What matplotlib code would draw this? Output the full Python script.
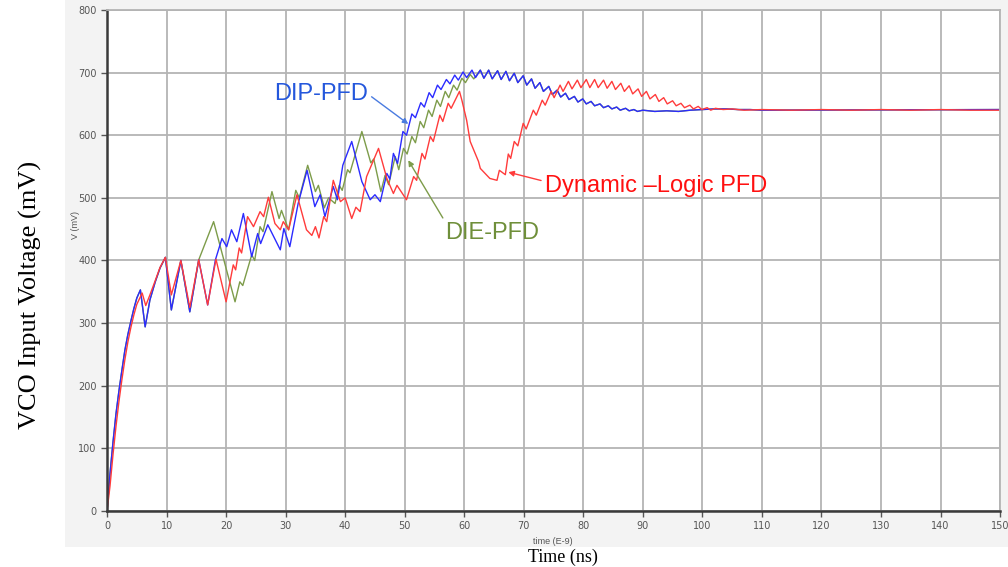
import matplotlib
matplotlib.use("Agg")
import matplotlib.pyplot as plt
from matplotlib.patches import Rectangle

# DIP-PFD (blue)
blue_t = [0, 0.5, 1, 1.5, 2, 2.5, 3, 3.5, 4, 4.5, 5, 5.6,
          6.4, 7.2, 8.1, 8.9, 9.8,
          10.8, 12.4, 13.9, 15.4, 16.9, 18.2,
          19.3, 20.1, 20.9, 21.8, 22.9, 24.3, 25.3, 25.8, 27.0,
          29.1, 29.7, 30.7, 32.1, 33.6, 34.9, 35.8, 36.6, 38.0, 38.7, 39.6, 41.1, 42.8, 44.2, 45.0, 45.9,
          47.0, 47.5, 48.1, 48.8, 49.7,
          50.3, 51.2, 51.8, 52.7, 53.3, 54.1, 54.7, 55.5, 56.1, 57.0, 57.6, 58.4, 59.0, 59.8,
          60.4, 61.3, 61.9, 62.7, 63.3, 64.1, 64.7, 65.6, 66.2, 67.0, 67.6, 68.4, 69.0, 69.9,
          70.5, 71.3, 71.9, 72.7, 73.3, 74.2, 74.8, 75.6, 76.2, 77.0, 77.6, 78.5, 79.1, 79.9,
          80.5, 81.3, 81.9, 82.8, 83.4, 84.2, 84.8, 85.6, 86.2, 87.1, 87.7, 88.5, 89.1,
          90, 92, 94, 96, 98, 100, 102, 104, 106, 108, 110, 150]
blue_v = [0, 60, 110, 155, 192, 225, 257, 282, 303, 323, 340, 353,
          294, 337, 366, 388, 405,
          321, 400, 318, 401, 329, 401,
          435, 422, 449, 430, 475, 406, 443, 427, 457,
          417, 451, 422, 491, 544, 486, 505, 470, 518, 497, 552, 590, 526, 497, 505, 494,
          539, 530, 571, 555, 606,
          600, 634, 628, 652, 645, 668, 660, 680, 673, 689, 682, 696, 688, 701,
          692, 704, 692, 704, 691, 704, 690, 703, 689, 702, 687, 699, 684, 695,
          680, 690, 675, 684, 670, 678, 665, 672, 661, 667, 657, 662, 653, 658,
          650, 654, 647, 650, 644, 647, 642, 645, 640, 643, 639, 641, 638,
          640, 638, 639, 638, 640, 641, 642, 642, 641, 641, 640, 641]

# DIE-PFD (green): follows DIP-PFD up to 15.4 ns and again after 62.7 ns
green_mid_t = [17.9, 21.5, 22.3, 22.8, 24.3, 24.8, 25.7, 26.2, 27.7, 28.9,
               29.3, 30.5, 31.7, 32.3, 33.7, 35.0, 35.5, 36.5, 37.2, 38.3,
               39.0, 39.5, 40.4, 40.8, 42.8, 44.3, 44.8, 46.0, 46.7, 47.3,
               48.4, 49.0, 49.8, 50.4, 51.2, 51.8, 52.6, 53.2, 54.0, 54.6,
               55.4, 56.0, 56.8, 57.4, 58.2, 58.8, 59.6, 60.2, 61.0, 61.6]
green_mid_v = [462, 334, 366, 360, 409, 400, 454, 446, 510, 467,
               480, 449, 512, 500, 552, 510, 520, 484, 500, 491,
               520, 512, 545, 540, 606, 556, 562, 510, 536, 521,
               566, 545, 579, 570, 598, 588, 622, 612, 640, 630,
               656, 646, 670, 660, 680, 672, 691, 684, 697, 690]

# Dynamic-Logic PFD (red)
red_t = [0, 0.5, 1, 1.5, 2, 2.5, 3, 3.5, 4, 4.5,
         5, 5.9, 6.5, 7.2, 8.1, 8.9, 9.8, 10.8, 12.4, 13.9,
         15.4, 16.9, 18.3, 20.0, 21.2, 21.6, 22.2, 22.6, 23.6, 24.6,
         25.7, 26.3, 27.1, 28.2, 29.1, 29.6, 30.5, 31.9, 33.5, 34.4,
         35.0, 35.6, 36.4, 36.9, 38.0, 39.2, 40.0, 41.1, 41.8, 42.5,
         43.6, 45.6, 47.0, 48.1, 48.7, 50.3, 51.5, 52.0, 52.9, 53.4,
         54.3, 54.8, 55.9, 56.4, 57.3, 57.8, 59.2, 59.6, 60.4, 61.0,
         62.4, 62.7, 64.3, 65.5, 65.9, 66.9, 67.4, 67.8, 68.4, 69.0,
         69.9, 70.4, 71.6, 72.1, 73.1, 73.6, 74.6, 75.1, 76.1, 76.6,
         77.5, 78.1, 79.0, 79.6, 80.5, 81.1, 81.9, 82.5, 83.4, 84.0,
         84.8, 85.4, 86.3, 86.9, 87.7, 88.3, 89.2, 89.8, 90.6, 91.2,
         92.1, 92.7, 93.5, 94.1, 95.0, 95.6, 96.4, 97.0, 97.9, 98.5,
         99.3, 99.9, 100.8, 101.4, 102.2, 103.5, 105, 107, 110, 115,
         120, 125, 130, 135, 140, 145, 150]
red_v = [0, 40, 90, 135, 175, 210, 242, 270, 293, 313,
         330, 348, 328, 345, 368, 389, 405, 345, 400, 325,
         401, 329, 402, 334, 393, 385, 420, 412, 470, 454,
         478, 470, 501, 459, 449, 462, 449, 505, 449, 440,
         454, 436, 470, 462, 528, 494, 500, 467, 485, 478,
         534, 579, 531, 507, 520, 497, 534, 528, 571, 562,
         598, 590, 632, 622, 651, 643, 670, 656, 624, 590,
         558, 547, 531, 528, 544, 537, 570, 563, 590, 583,
         619, 610, 640, 632, 656, 648, 670, 660, 680, 670,
         686, 674, 688, 676, 689, 676, 689, 676, 688, 675,
         686, 673, 683, 670, 679, 666, 674, 662, 670, 658,
         665, 654, 660, 650, 655, 647, 651, 644, 648, 642,
         646, 641, 644, 640, 643, 641, 642, 640, 641, 640,
         641, 640, 641, 640, 641, 640, 640]

x_ticks = list(range(0, 151, 10))
y_ticks = list(range(0, 801, 100))

# build green series from its own middle part + shared parts of blue
green_t = blue_t[:21] + green_mid_t + [t for t in blue_t if t >= 62.7]
green_v = blue_v[:21] + green_mid_v + [v for t, v in zip(blue_t, blue_v) if t >= 62.7]

fig = plt.figure(figsize=(10.08, 5.67), dpi=100)
fig.patch.set_facecolor('white')
# light grey panel of the simulator screenshot
panel = Rectangle((0.0645, 0.035), 0.94, 0.97, transform=fig.transFigure,
                  facecolor='#f3f3f3', edgecolor='none', zorder=-5)
fig.add_artist(panel)

ax = fig.add_axes([0.1062, 0.0988, 0.8859, 0.8836])
ax.set_facecolor('white')
ax.set_xlim(0, 150)
ax.set_ylim(0, 800)
ax.set_xticks(x_ticks)
ax.set_yticks(y_ticks)
ax.grid(True, color='#b4b4b4', linewidth=1.3)
ax.set_axisbelow(True)
ax.tick_params(labelsize=7, colors='#555555', length=4, width=1, direction='out')
for side in ['top', 'right']:
    ax.spines[side].set_color('#b4b4b4')
    ax.spines[side].set_linewidth(1.3)
for side in ['left', 'bottom']:
    ax.spines[side].set_color('#3a3a3a')
    ax.spines[side].set_linewidth(1.8)

ax.plot(green_t, green_v, color='#7d9c4a', linewidth=1.0)
ax.plot(blue_t, blue_v, color='#2b2bff', linewidth=1.0)
ax.plot(red_t, red_v, color='#ff3b3b', linewidth=1.0)

# curve labels with arrows
ax.annotate('DIP-PFD', xy=(50.6, 618), xytext=(35.9, 666), color='#2457dc',
            fontsize=17, family='Liberation Sans', ha='center', va='center',
            arrowprops=dict(arrowstyle='-|>', color='#4a7be0', lw=1.0, relpos=(1.0, 0.5),
                            mutation_scale=8, shrinkA=1, shrinkB=0))
ax.annotate('DIE-PFD', xy=(50.6, 560), xytext=(64.7, 444), color='#6f8f3a',
            fontsize=17, family='Liberation Sans', ha='center', va='center',
            arrowprops=dict(arrowstyle='-|>', color='#7d9c4a', lw=1.0, relpos=(0.0, 1.0),
                            mutation_scale=8, shrinkA=1, shrinkB=0))
ax.annotate('Dynamic \u2013Logic PFD', xy=(67.4, 541), xytext=(73.6, 519), color='#ff1010',
            fontsize=17, family='Liberation Sans', ha='left', va='center',
            arrowprops=dict(arrowstyle='-|>', color='#ff3b3b', lw=1.0, relpos=(0.0, 0.7),
                            mutation_scale=8, shrinkA=1, shrinkB=0))

# small simulator axis labels
fig.text(553 / 1008, 1 - 541 / 567, 'time (E-9)', fontsize=6.5, color='#555555',
         ha='center', va='center', family='Liberation Sans')
fig.text(75 / 1008, 1 - 225 / 567, 'V (mV)', fontsize=6.5, color='#555555',
         ha='center', va='center', rotation=90, family='Liberation Sans')

# paper axis labels
fig.text(30 / 1008, 1 - 295 / 567, 'VCO Input Voltage (mV)', fontsize=19,
         family='Liberation Serif', rotation=90, ha='center', va='center')
fig.text(563 / 1008, 1 - 557 / 567, 'Time (ns)', fontsize=13,
         family='Liberation Serif', ha='center', va='center')

fig.savefig('out.png', dpi=100)
